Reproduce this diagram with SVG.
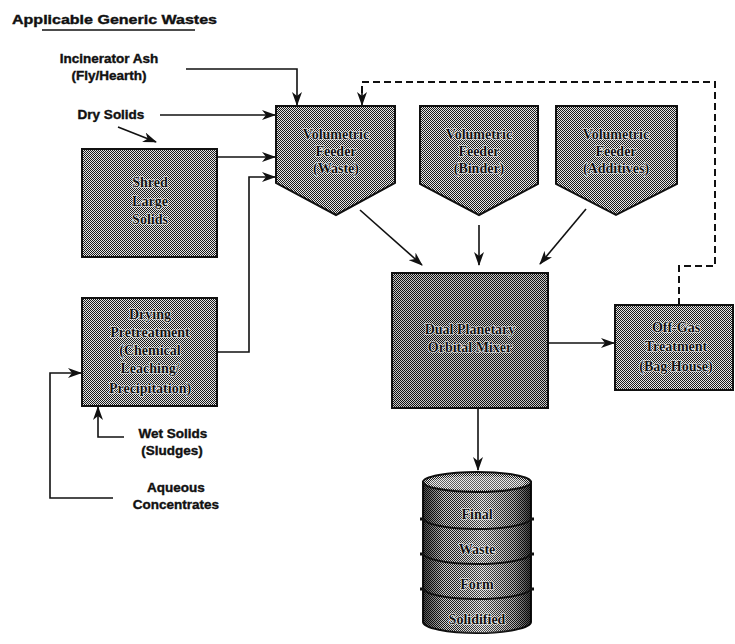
<svg xmlns="http://www.w3.org/2000/svg" width="735" height="644" viewBox="0 0 735 644">
  <style>
    .lbl { font-family: "Liberation Sans", Arial, sans-serif; font-weight: bold; font-size: 13.5px; fill: #111; stroke: #111; stroke-width: 0.4px; }
    .in { font-family: "Liberation Serif", "Times New Roman", serif; font-weight: bold; font-size: 14px; fill: #111; stroke: #f4f4f4; stroke-width: 1.2px; paint-order: stroke; text-anchor: middle; }
    .box { fill: url(#dither); stroke: #111; stroke-width: 2; }
    .dark { fill: url(#ditherDark); stroke: #111; stroke-width: 2; }
    .ln { fill: none; stroke: #111; stroke-width: 1.6; }
    .dash { fill: none; stroke: #111; stroke-width: 2; stroke-dasharray: 7 4; }
  </style>
  <defs>
    <pattern id="dither" width="2" height="2" patternUnits="userSpaceOnUse">
      <rect width="2" height="2" fill="#e6e6e6"/>
      <rect width="1" height="1" fill="#1a1a1a"/>
      <rect x="1" y="1" width="1" height="1" fill="#1a1a1a"/>
    </pattern>
    <pattern id="ditherDark" width="2" height="2" patternUnits="userSpaceOnUse">
      <rect width="2" height="2" fill="#c8c8c8"/>
      <rect width="1" height="1" fill="#111"/>
      <rect x="1" y="1" width="1" height="1" fill="#111"/>
    </pattern>
    <linearGradient id="drumShade" x1="0" y1="0" x2="1" y2="0">
      <stop offset="0" stop-color="#000" stop-opacity="0.7"/>
      <stop offset="0.2" stop-color="#000" stop-opacity="0.1"/>
      <stop offset="0.55" stop-color="#fff" stop-opacity="0.2"/>
      <stop offset="0.85" stop-color="#000" stop-opacity="0.25"/>
      <stop offset="1" stop-color="#000" stop-opacity="0.75"/>
    </linearGradient>
    <marker id="arr" viewBox="0 0 14 10" refX="13" refY="5" markerWidth="14" markerHeight="10" markerUnits="userSpaceOnUse" orient="auto">
      <path d="M0 0 L14 5 L0 10 L4 5 Z" fill="#111"/>
    </marker>
  </defs>

  <!-- heading -->
  <g id="title">
    <text class="lbl" x="12" y="24" textLength="205" lengthAdjust="spacingAndGlyphs">Applicable Generic Wastes</text>
    <line x1="42" y1="30" x2="195" y2="30" stroke="#111" stroke-width="1.5"/>
  </g>

  <!-- source labels -->
  <g id="incinerator-ash">
    <text class="lbl" x="109" y="63" text-anchor="middle">Incinerator Ash</text>
    <text class="lbl" x="109" y="80" text-anchor="middle">(Fly/Hearth)</text>
  </g>
  <g id="dry-solids">
    <text class="lbl" x="111" y="119" text-anchor="middle">Dry Solids</text>
  </g>
  <g id="wet-solids">
    <text class="lbl" x="173" y="438" text-anchor="middle">Wet Solids</text>
    <text class="lbl" x="172" y="455" text-anchor="middle">(Sludges)</text>
  </g>
  <g id="aqueous">
    <text class="lbl" x="176" y="492" text-anchor="middle">Aqueous</text>
    <text class="lbl" x="176" y="509" text-anchor="middle">Concentrates</text>
  </g>

  <!-- process blocks -->
  <g id="feeder-waste">
    <path class="box" d="M276 106 H395 V183 L336 215 L276 183 Z"/>
    <text class="in" x="336" y="139">Volumetric</text>
    <text class="in" x="336" y="156">Feeder</text>
    <text class="in" x="336" y="173">(Waste)</text>
  </g>
  <g id="feeder-binder">
    <path class="box" d="M420 106 H538 V184 L479 215 L420 184 Z"/>
    <text class="in" x="479" y="139">Volumetric</text>
    <text class="in" x="479" y="156">Feeder</text>
    <text class="in" x="479" y="173">(Binder)</text>
  </g>
  <g id="feeder-additives">
    <path class="box" d="M556 106 H677 V184 L616 215 L556 184 Z"/>
    <text class="in" x="616" y="139">Volumetric</text>
    <text class="in" x="616" y="156">Feeder</text>
    <text class="in" x="616" y="173">(Additives)</text>
  </g>
  <g id="shred">
    <rect class="box" x="82" y="149" width="135" height="108"/>
    <text class="in" x="150" y="187">Shred</text>
    <text class="in" x="150" y="206">Large</text>
    <text class="in" x="150" y="224">Solids</text>
  </g>
  <g id="drying">
    <rect class="box" x="82" y="298" width="135" height="108"/>
    <text class="in" x="150" y="319">Drying</text>
    <text class="in" x="150" y="337">Pretreatment</text>
    <text class="in" x="150" y="355">(Chemical</text>
    <text class="in" x="150" y="373">Leaching/</text>
    <text class="in" x="150" y="393">Precipitation)</text>
  </g>
  <g id="mixer">
    <rect class="dark" x="392" y="273" width="156" height="135"/>
    <text class="in" x="470" y="334">Dual Planetary</text>
    <text class="in" x="470" y="352">Orbital Mixer</text>
  </g>
  <g id="off-gas">
    <rect class="box" x="615" y="305" width="118" height="85"/>
    <text class="in" x="676" y="332">Off-Gas</text>
    <text class="in" x="676" y="351">Treatment</text>
    <text class="in" x="676" y="371">(Bag House)</text>
  </g>

  <!-- waste drum -->
  <g id="drum">
    <path d="M423 482 V622 A54 11 0 0 0 531 622 V482 Z" fill="url(#dither)" stroke="#111" stroke-width="2"/>
    <path d="M423 482 V622 A54 11 0 0 0 531 622 V482 Z" fill="url(#drumShade)"/>
    <ellipse cx="477" cy="482" rx="54" ry="10" fill="url(#dither)" stroke="#111" stroke-width="2"/>
    <ellipse cx="477" cy="483" rx="48" ry="7" fill="#fff" fill-opacity="0.3"/>
    <path d="M423 518 A54 11 0 0 0 531 518 M423 553 A54 11 0 0 0 531 553 M423 588 A54 11 0 0 0 531 588" fill="none" stroke="#111" stroke-width="2"/>
    <path d="M420 519 h4 M420 554 h4 M420 589 h4 M530 519 h4 M530 554 h4 M530 589 h4" stroke="#111" stroke-width="3"/>
    <text class="in" x="477" y="519">Final</text>
    <text class="in" x="477" y="554">Waste</text>
    <text class="in" x="477" y="589">Form</text>
    <text class="in" x="477" y="624">Solidified</text>
  </g>

  <!-- flow lines -->
  <g id="connectors">
    <polyline class="ln" points="186,69 297,69 297,105" marker-end="url(#arr)"/>
    <line class="ln" x1="160" y1="115" x2="275" y2="115" marker-end="url(#arr)"/>
    <line class="ln" x1="118" y1="127" x2="156" y2="142" marker-end="url(#arr)"/>
    <line class="ln" x1="217" y1="157" x2="275" y2="157" marker-end="url(#arr)"/>
    <polyline class="ln" points="217,352 249,352 249,177 275,177" marker-end="url(#arr)"/>
    <polyline class="ln" points="113,498 50,498 50,373 81,373" marker-end="url(#arr)"/>
    <polyline class="ln" points="124,437 98,437 98,407" marker-end="url(#arr)"/>
    <line class="ln" x1="360" y1="210" x2="422" y2="265" marker-end="url(#arr)"/>
    <line class="ln" x1="479" y1="225" x2="479" y2="265" marker-end="url(#arr)"/>
    <line class="ln" x1="586" y1="209" x2="540" y2="264" marker-end="url(#arr)"/>
    <line class="ln" x1="548" y1="343" x2="614" y2="343" marker-end="url(#arr)"/>
    <line class="ln" x1="478" y1="409" x2="478" y2="470" marker-end="url(#arr)"/>
    <polyline class="dash" points="679,305 679,266 715,266 715,82 362,82 362,94"/>
    <line class="ln" x1="362" y1="92" x2="362" y2="105" marker-end="url(#arr)"/>
  </g>
</svg>
